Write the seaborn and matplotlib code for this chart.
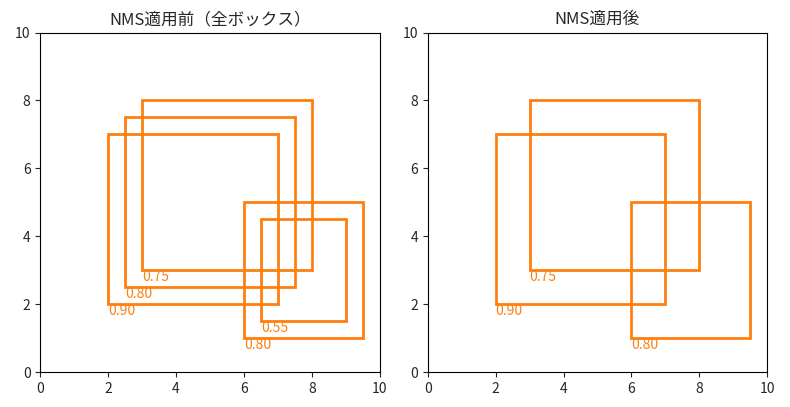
import matplotlib
matplotlib.use('Agg')
import matplotlib.pyplot as plt
import matplotlib.patches as patches
import seaborn as sns

sns.set_style('white')
plt.rcParams['font.family'] = ['Noto Sans CJK JP', 'DejaVu Sans']

# ボックス (x1, y1, x2, y2) とスコア
boxes_all = [(2, 2, 7, 7), (2.5, 2.5, 7.5, 7.5), (3, 3, 8, 8), (6, 1, 9.5, 5), (6.5, 1.5, 9, 4.5)]
scores_all = [0.90, 0.80, 0.75, 0.80, 0.55]
boxes_nms = [(2, 2, 7, 7), (3, 3, 8, 8), (6, 1, 9.5, 5)]
scores_nms = [0.90, 0.75, 0.80]

color = '#ff7f0e'

fig, axes = plt.subplots(1, 2, figsize=(7.9, 4.07), dpi=100)

def draw(ax, boxes, scores, title):
    for (x1, y1, x2, y2), s in zip(boxes, scores):
        ax.add_patch(patches.Rectangle((x1, y1), x2 - x1, y2 - y1,
                                       fill=False, edgecolor=color, linewidth=2))
        ax.text(x1, y1, f'{s:.2f}', color=color, fontsize=10, va='top')
    ax.set_xlim(0, 10)
    ax.set_ylim(0, 10)
    ax.set_aspect('equal')
    ax.set_title(title)
    for sp in ax.spines.values():
        sp.set_color('black')
        sp.set_linewidth(0.8)
    ax.tick_params(left=True, bottom=True, length=3.5)

draw(axes[0], boxes_all, scores_all, 'NMS適用前（全ボックス）')
draw(axes[1], boxes_nms, scores_nms, 'NMS適用後')

plt.tight_layout()
plt.savefig('out.png')
